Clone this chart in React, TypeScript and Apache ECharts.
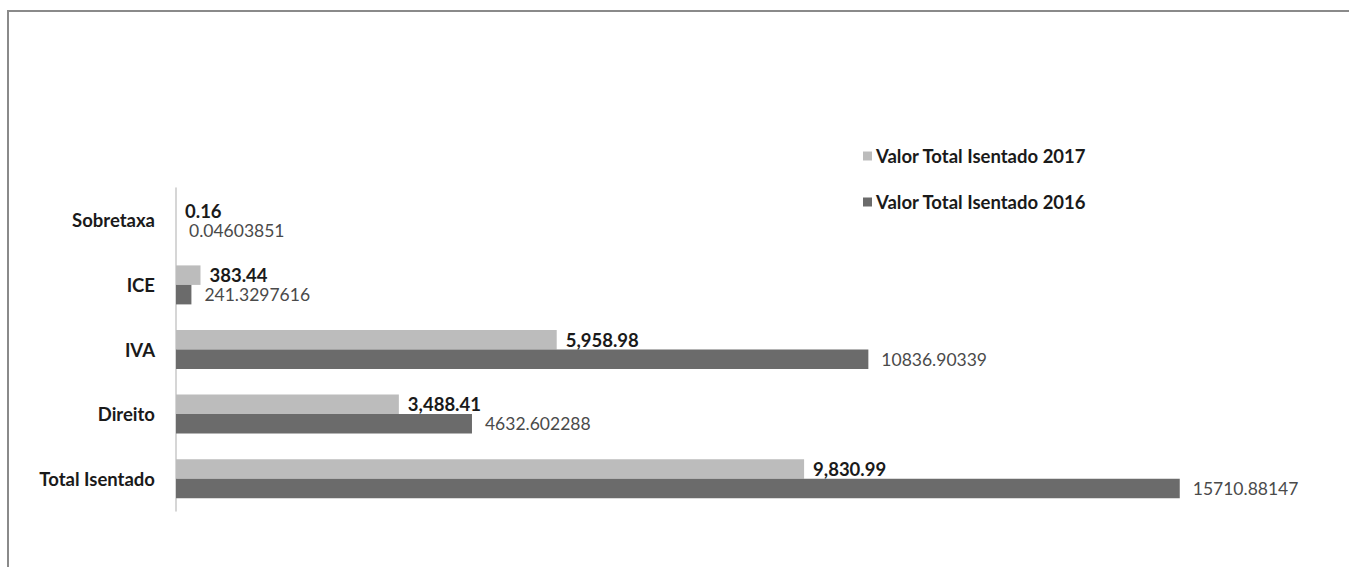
import React, { useEffect, useRef } from "react";
import * as echarts from "echarts";

const categories = ["Total Isentado", "Direito", "IVA", "ICE", "Sobretaxa"];
const values2017 = [9830.99, 3488.41, 5958.98, 383.44, 0.16];
const values2016 = [15710.88147, 4632.602288, 10836.90339, 241.3297616, 0.04603851];
const name2017 = "Valor Total Isentado 2017";
const name2016 = "Valor Total Isentado 2016";

const FONT = "Lato, 'Open Sans', sans-serif";

function fmt2(v: number) {
  return v.toLocaleString("en-US", { minimumFractionDigits: 2, maximumFractionDigits: 2 });
}

export default function App() {
  const ref = useRef<HTMLDivElement>(null);
  useEffect(() => {
    if (!ref.current) return;
    const chart = echarts.init(ref.current, undefined, { renderer: "svg" });
    chart.setOption({
      animation: false,
      backgroundColor: "#ffffff",
      textStyle: { fontFamily: FONT },
      graphic: [
        {
          type: "polyline",
          shape: { points: [[8, 567], [8, 11], [1349, 11]] },
          style: { stroke: "#8a8a8a", lineWidth: 2, fill: null },
          silent: true,
        },
      ],
      legend: {
        orient: "vertical",
        left: 858,
        top: 141,
        itemWidth: 9,
        itemHeight: 9,
        itemGap: 26,
        icon: "rect",
        data: [name2017, name2016],
        textStyle: { fontFamily: FONT, fontSize: 18.5, fontWeight: "bold", color: "#1a1a1a", lineHeight: 20, padding: [0, 0, 0, -1] },
      },
      grid: { left: 176, right: 23, top: 188, bottom: 56, containLabel: false },
      xAxis: {
        type: "value",
        min: 0,
        max: 18000,
        show: false,
      },
      yAxis: {
        type: "category",
        data: categories,
        axisLine: { show: true, lineStyle: { color: "#c8c8c8", width: 1.5 } },
        axisTick: { show: false },
        axisLabel: { margin: 21, fontFamily: FONT, fontSize: 18.5, fontWeight: "bold", color: "#1a1a1a" },
        splitLine: { show: false },
      },
      series: [
        {
          name: name2017,
          type: "bar",
          data: values2017,
          barWidth: 19.5,
          barGap: "0%",
          itemStyle: { color: "#bcbcbc" },
          label: {
            show: true,
            position: "right",
            distance: 9,
            fontFamily: FONT,
            fontSize: 18.5,
            lineHeight: 17,
            fontWeight: "bold",
            color: "#1a1a1a",
            formatter: (p: any) => fmt2(p.value),
          },
        },
        {
          name: name2016,
          type: "bar",
          data: values2016,
          barWidth: 19.5,
          barGap: "0%",
          itemStyle: { color: "#6b6b6b" },
          label: {
            show: true,
            position: "right",
            distance: 13,
            offset: [0, 0],
            fontFamily: FONT,
            fontSize: 17.5,
            lineHeight: 16,
            color: "#4a4a4a",
            formatter: (p: any) => String(p.value),
          },
        },
      ],
    });
    return () => chart.dispose();
  }, []);
  return (
    <div
      ref={ref}
      style={{ position: "fixed", left: 0, top: 0, width: 1349, height: 567 }}
    />
  );
}
